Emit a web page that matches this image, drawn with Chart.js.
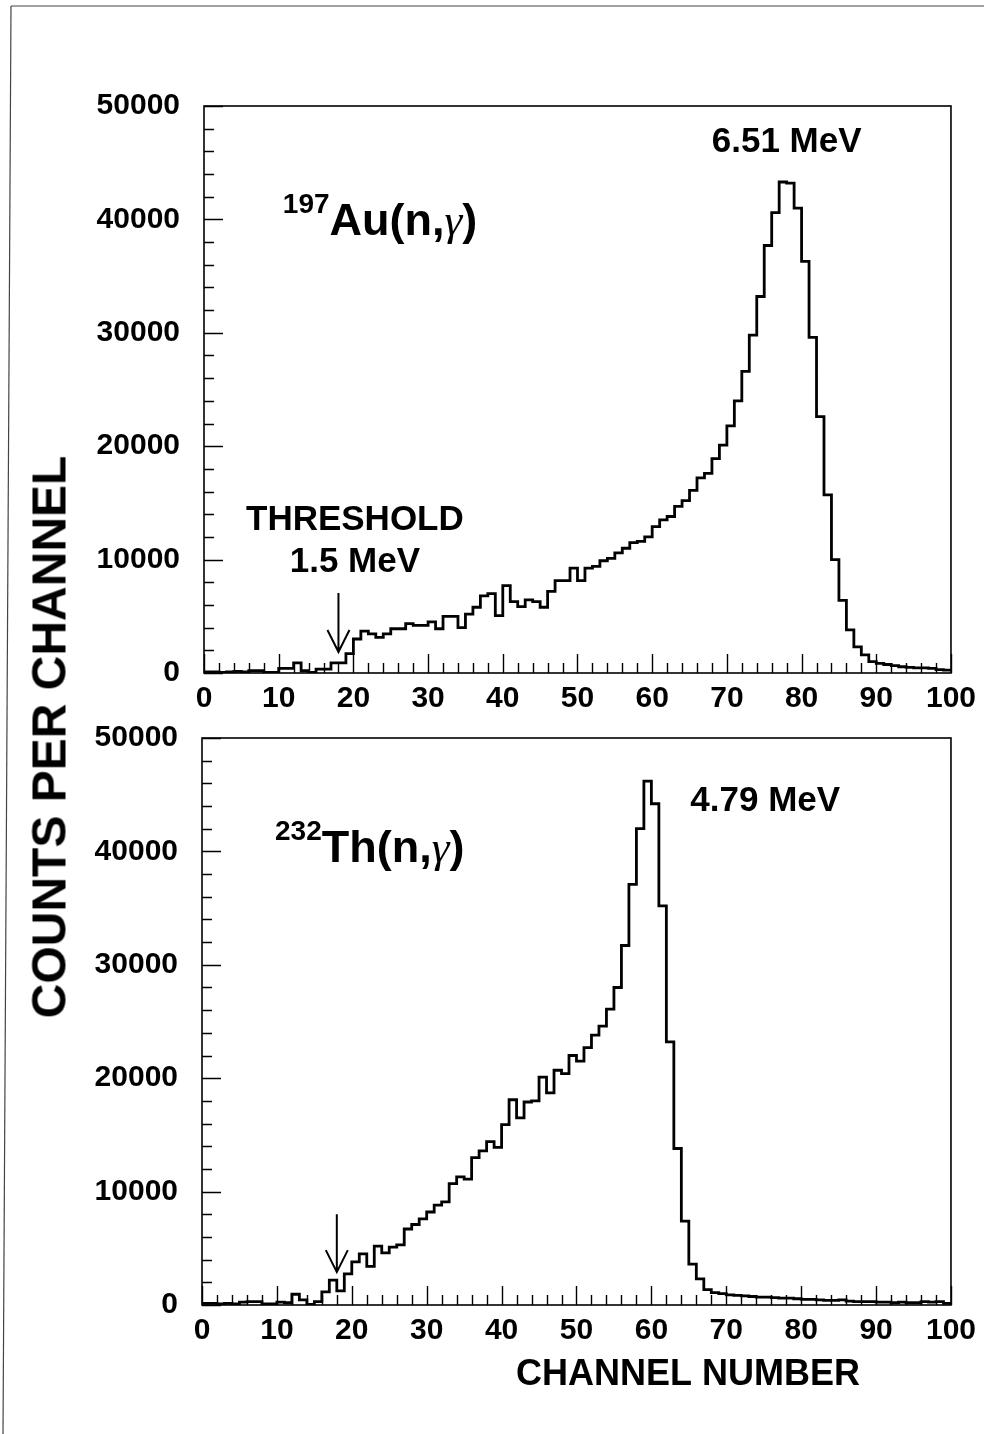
<!DOCTYPE html>
<html>
<head>
<meta charset="utf-8">
<script src="https://cdn.jsdelivr.net/npm/chart.js@4.4.1/dist/chart.umd.min.js"></script>
<style>
  html, body { margin: 0; padding: 0; background: #fff; }
  body { position: relative; width: 984px; height: 1434px; overflow: hidden; }
  canvas { position: absolute; left: 0; }
  #auChart { top: 0; }
  #thChart { top: 690px; }
  #yTitle {
    position: absolute; left: 49px; top: 737px;
    transform: translate(-50%, -50%) rotate(-90deg);
    font-family: "Liberation Sans", Arial, sans-serif;
    font-weight: bold; font-size: 48px; white-space: nowrap; color: #000;
  }
  svg { position: absolute; left: 0; top: 0; }
</style>
</head>
<body>
<svg width="984" height="1434">
  <line x1="11" y1="6" x2="984" y2="6" stroke="#444" stroke-width="1.2"/>
  <line x1="11" y1="6" x2="3" y2="1434" stroke="#444" stroke-width="1.2"/>
</svg>
<canvas id="auChart" width="984" height="715"></canvas>
<canvas id="thChart" width="984" height="744"></canvas>
<div id="yTitle">COUNTS PER CHANNEL</div>
<script>
const channels = Array.from({ length: 100 }, (_, i) => i);

// 197Au(n,g) counts per channel, channels 0..99
const auCounts = [
  100, 100, 50, 100, 150, 100, 200, 200, 50, 50,
  400, 400, 900, 200, 50, 350, 350, 900, 900, 1700,
  3000, 3700, 3450, 3150, 3450, 3900, 3900, 4350, 4200, 4200,
  4500, 3900, 5000, 5000, 4000, 5200, 5800, 6800, 7000, 5060,
  7700, 6300, 5850, 6450, 6300, 5800, 7200, 8150, 8150, 9250,
  8150, 9250, 9400, 9900, 10100, 10600, 11000, 11500, 11600, 12000,
  12900, 13500, 13800, 14700, 15200, 16100, 17200, 17600, 18900, 20100,
  21800, 24000, 26600, 29800, 33200, 37700, 40600, 43300, 43200, 41000,
  36300, 29600, 22600, 15700, 10000, 6400, 3800, 2300, 1600, 1000,
  850, 750, 650, 550, 500, 450, 450, 400, 300, 250
];

// 232Th(n,g) counts per channel, channels 0..99
const thCounts = [
  150, 150, 100, 150, 100, 250, 300, 300, 100, 100,
  250, 200, 950, 450, 50, 300, 1150, 2200, 1250, 2750,
  3800, 4500, 3400, 5200, 4600, 5100, 5300, 6700, 7100, 7600,
  8200, 8800, 9100, 10700, 11300, 11100, 13000, 13600, 14400, 13900,
  15900, 18100, 16500, 17900, 18000, 20100, 18700, 20700, 20400, 22000,
  21500, 22700, 23800, 24600, 26100, 28000, 31700, 37100, 42000, 46200,
  44200, 35200, 23200, 13800, 7400, 3600, 2300, 1350, 1100, 1000,
  900, 850, 800, 750, 700, 700, 650, 600, 600, 550,
  500, 500, 450, 400, 400, 450, 350, 300, 300, 300,
  250, 250, 200, 250, 200, 200, 300, 250, 300, 150
];

const xTickValues = [0, 10, 20, 30, 40, 50, 60, 70, 80, 90, 100];
const yTickValues = [0, 10000, 20000, 30000, 40000, 50000];
const xMinorStep = 2;
const yMinorStep = 2000;

const FONT = '"Liberation Sans", Arial, Helvetica, sans-serif';
const SERIF = '"Liberation Serif", "Times New Roman", serif';

// each channel's count is held across [c, c+1]
function histPoints(counts) {
  return [{ x: channels[0], y: counts[0] }].concat(
    channels.map((c, i) => ({ x: c + 1, y: counts[i] }))
  );
}

// box frame, inward ticks, arrows and text labels
const panelDecor = {
  id: 'panelDecor',
  afterDraw(chart, args, opts) {
    const { ctx, chartArea: a, scales: { x, y } } = chart;
    ctx.save();
    ctx.strokeStyle = '#000';
    ctx.lineWidth = 1.6;
    ctx.strokeRect(a.left, a.top, a.right - a.left, a.bottom - a.top);

    ctx.lineWidth = 1.4;
    ctx.beginPath();
    for (let v = y.min; v <= y.max; v += yMinorStep) {
      const py = Math.round(y.getPixelForValue(v)) + 0.5;
      const len = yTickValues.includes(v) ? 19 : 10;
      ctx.moveTo(a.left, py);
      ctx.lineTo(a.left + len, py);
    }
    for (let c = x.min; c <= x.max; c += xMinorStep) {
      const px = Math.round(x.getPixelForValue(c)) + 0.5;
      const len = xTickValues.includes(c) ? 19 : 10;
      ctx.moveTo(px, a.bottom);
      ctx.lineTo(px, a.bottom - len);
    }
    ctx.stroke();

    ctx.lineWidth = 2;
    (opts.arrows || []).forEach(ar => {
      const px = x.getPixelForValue(ar.x);
      const p0 = y.getPixelForValue(ar.from);
      const p1 = y.getPixelForValue(ar.to);
      ctx.beginPath();
      ctx.moveTo(px, p0);
      ctx.lineTo(px, p1);
      ctx.moveTo(px - 11, p1 - 22);
      ctx.lineTo(px, p1);
      ctx.lineTo(px + 11, p1 - 22);
      ctx.stroke();
    });

    ctx.fillStyle = '#000';
    ctx.textBaseline = 'alphabetic';
    ctx.textAlign = 'left';
    (opts.labels || []).forEach(lb => {
      let px = x.getPixelForValue(lb.x);
      const py = y.getPixelForValue(lb.y);
      let total = 0;
      lb.parts.forEach(p => { ctx.font = p.font; total += ctx.measureText(p.text).width; });
      if (lb.align === 'center') px -= total / 2;
      lb.parts.forEach(p => {
        ctx.font = p.font;
        ctx.fillText(p.text, px, py - (p.rise || 0));
        px += ctx.measureText(p.text).width;
      });
    });
    ctx.restore();
  }
};

function makeChart(id, counts, area, decor) {
  const ctx = document.getElementById(id).getContext('2d');
  const tickFont = { family: FONT, size: 30, weight: 'bold' };
  return new Chart(ctx, {
    type: 'line',
    data: {
      datasets: [{
        data: histPoints(counts),
        borderColor: '#000',
        borderWidth: 2.8,
        stepped: 'after',
        pointRadius: 0,
        fill: false,
      }],
    },
    options: {
      responsive: false,
      animation: false,
      devicePixelRatio: 1,
      layout: { padding: { top: area.top, right: area.right, bottom: 0, left: 0 } },
      scales: {
        x: {
          type: 'linear',
          min: 0,
          max: 100,
          afterBuildTicks: s => { s.ticks = xTickValues.map(v => ({ value: v })); },
          afterFit: s => { s.height = area.xHeight; },
          grid: { display: false, drawTicks: false },
          border: { display: false },
          ticks: { autoSkip: false, maxRotation: 0, padding: 8, color: '#000', font: tickFont },
        },
        y: {
          type: 'linear',
          min: 0,
          max: 50000,
          afterBuildTicks: s => { s.ticks = yTickValues.map(v => ({ value: v })); },
          afterFit: s => { s.width = area.left; },
          grid: { display: false, drawTicks: false },
          border: { display: false },
          ticks: { padding: 24, color: '#000', font: tickFont, callback: v => String(v) },
        },
      },
      plugins: {
        legend: { display: false },
        tooltip: { enabled: false },
        panelDecor: decor,
      },
    },
    plugins: [panelDecor],
  });
}

const big = `bold 45px ${FONT}`;
const sup = `bold 28px ${FONT}`;
const gam = `italic 45px ${SERIF}`;
const note = `bold 35px ${FONT}`;

makeChart('auChart', auCounts, { top: 106, right: 31, left: 204, xHeight: 42 }, {
  arrows: [{ x: 18, from: 7050, to: 1850 }],
  labels: [
    { x: 78.0, y: 45900, align: 'center', parts: [{ text: '6.51 MeV', font: note }] },
    { x: 10.55, y: 38600, parts: [
      { text: '197', font: sup, rise: 22 },
      { text: 'Au(n,', font: big },
      { text: 'γ', font: gam },
      { text: ')', font: big },
    ] },
    { x: 20.2, y: 12600, align: 'center', parts: [{ text: 'THRESHOLD', font: note }] },
    { x: 20.2, y: 8900, align: 'center', parts: [{ text: '1.5 MeV', font: note }] },
  ],
});

makeChart('thChart', thCounts, { top: 48, right: 33, left: 202, xHeight: 129 }, {
  arrows: [{ x: 18, from: 8000, to: 2900 }],
  labels: [
    { x: 75.2, y: 43600, align: 'center', parts: [{ text: '4.79 MeV', font: note }] },
    { x: 9.75, y: 39060, parts: [
      { text: '232', font: sup, rise: 22 },
      { text: 'Th(n,', font: big },
      { text: 'γ', font: gam },
      { text: ')', font: big },
    ] },
    { x: 64.9, y: -7050, align: 'center', parts: [{ text: 'CHANNEL NUMBER', font: `bold 36px ${FONT}` }] },
  ],
});
</script>
</body>
</html>
